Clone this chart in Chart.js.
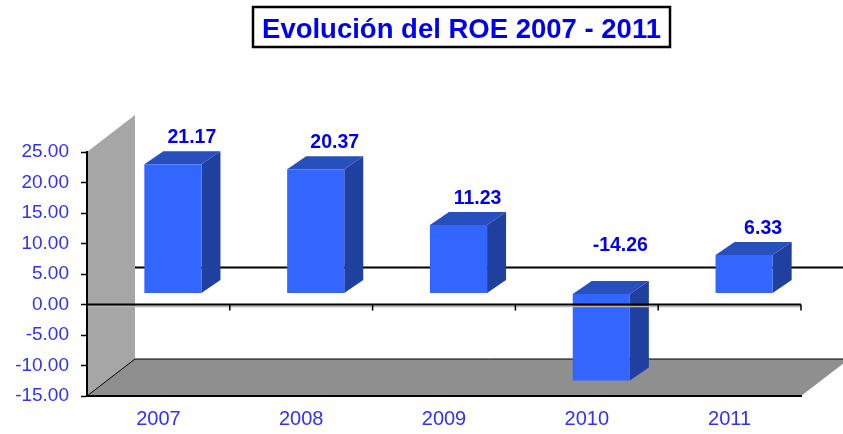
<!DOCTYPE html>
<html>
<head>
<meta charset="utf-8">
<title>Evolución del ROE</title>
<script src="https://cdn.jsdelivr.net/npm/chart.js@4"></script>
<style>
    html, body { margin: 0; background: #fff; }
    canvas { display: block; }
</style>
</head>
<body>
<canvas id="grafico" width="843" height="434"></canvas>
<script>
const titulo = 'Evolución del ROE 2007 - 2011'
const anos = ['2007', '2008', '2009', '2010', '2011']
const roe = [21.17, 20.37, 11.23, -14.26, 6.33]
const yTicks = [25, 20, 15, 10, 5, 0, -5, -10, -15]

// perspective of the fake 3D box
const fundo = { dx: 48, dy: -37 }
const barra = { dx: 14.5, dy: -11, fx: 19, fy: -13 }

function poly(ctx, pts, cor) {
    ctx.fillStyle = cor
    ctx.beginPath()
    pts.forEach((p, i) => i ? ctx.lineTo(p[0], p[1]) : ctx.moveTo(p[0], p[1]))
    ctx.closePath()
    ctx.fill()
}

function linha(ctx, x1, y1, x2, y2, w, cor = '#000') {
    ctx.strokeStyle = cor
    ctx.lineWidth = w
    ctx.beginPath()
    ctx.moveTo(x1, y1)
    ctx.lineTo(x2, y2)
    ctx.stroke()
}

const caixa3d = {
    id: 'caixa3d',
    afterLayout(chart) {
        // title box is not centred on the page in the original
        chart.titleBlock.left += 61
        chart.titleBlock.right += 61
    },
    beforeDraw(chart) {
        const ctx = chart.ctx
        const { left, right, top, bottom } = chart.chartArea
        ctx.save()
        poly(ctx, [[left, top], [left + fundo.dx, top + fundo.dy], [left + fundo.dx, bottom + fundo.dy], [left, bottom]], '#a6a6a6')
        poly(ctx, [[left, bottom], [left + fundo.dx, bottom + fundo.dy], [right + fundo.dx, bottom + fundo.dy], [right, bottom]], '#8f8f8f')
        linha(ctx, left, bottom, left + fundo.dx, bottom + fundo.dy, 1)
        linha(ctx, left + fundo.dx, bottom + fundo.dy, right + fundo.dx, bottom + fundo.dy, 1)
        ctx.restore()
    },
    beforeDatasetsDraw(chart) {
        const ctx = chart.ctx
        const { left, right } = chart.chartArea
        const y0 = chart.scales.y.getPixelForValue(0)
        linha(ctx, left + fundo.dx, y0 + fundo.dy, right + fundo.dx, y0 + fundo.dy, 2)

        ctx.save()
        ctx.translate(barra.dx, barra.dy)
        chart.getDatasetMeta(0).data.forEach(b => {
            const x1 = b.x - b.width / 2
            const x2 = b.x + b.width / 2
            const t = Math.min(b.y, b.base)
            const f = Math.max(b.y, b.base)
            poly(ctx, [[x1, t], [x1 + barra.fx, t + barra.fy], [x2 + barra.fx, t + barra.fy], [x2, t]], '#2850bd')
            poly(ctx, [[x2, t], [x2 + barra.fx, t + barra.fy], [x2 + barra.fx, f + barra.fy], [x2, f]], '#2040a0')
        })
    },
    afterDatasetsDraw(chart) {
        const ctx = chart.ctx
        ctx.restore()

        // zero axis lies over the bars
        const { left, right } = chart.chartArea
        const y0 = chart.scales.y.getPixelForValue(0)
        linha(ctx, left, y0 + 2, right, y0 + 2, 1.5, '#b5b5b5')
        linha(ctx, left, y0, right, y0, 2)
        const passo = (right - left) / anos.length
        for (let i = 0; i <= anos.length; i++) {
            linha(ctx, left + i * passo, y0, left + i * passo, y0 + 6, 1.5)
        }

        // value labels
        ctx.save()
        ctx.font = 'bold 19.5px "Liberation Sans"'
        ctx.fillStyle = '#0000f0'
        ctx.textAlign = 'center'
        ctx.textBaseline = 'middle'
        chart.getDatasetMeta(0).data.forEach((b, i) => {
            const extra = roe[i] < 0 ? 59 : 37.5
            ctx.fillText(roe[i].toFixed(2), b.x + barra.dx + barra.fx, Math.min(b.y, b.base) - extra)
        })
        ctx.restore()

        // title frame
        const tb = chart.titleBlock
        const cx = (tb.left + tb.right) / 2
        ctx.save()
        ctx.strokeStyle = '#000'
        ctx.lineWidth = 2.5
        ctx.strokeRect(cx - 208.5, 7, 417, 40)
        ctx.restore()
    }
}

new Chart(document.getElementById('grafico'), {
    type: 'bar',
    data: {
        labels: anos,
        datasets: [{
            data: roe,
            backgroundColor: '#3366ff',
            borderWidth: 0,
            barPercentage: 0.4,
            categoryPercentage: 1,
            clip: false
        }]
    },
    options: {
        responsive: false,
        animation: false,
        layout: { padding: { right: 42 } },
        plugins: {
            legend: { display: false },
            tooltip: { enabled: false },
            title: {
                display: true,
                text: titulo,
                color: '#0000f0',
                font: { family: '"Liberation Sans"', size: 27.5, weight: 'bold', lineHeight: 1 },
                padding: { top: 16.5, bottom: 108 }
            }
        },
        scales: {
            x: {
                grid: { display: false },
                border: { color: '#000', width: 2 },
                afterFit(s) { s.height = 38 },
                ticks: {
                    color: '#3030ff',
                    padding: 3,
                    font: { family: '"Liberation Sans"', size: 20 }
                }
            },
            y: {
                min: -15,
                max: 25,
                afterBuildTicks(s) { s.ticks = yTicks.map(v => ({ value: v })) },
                afterFit(s) { s.width = 87 },
                grid: { drawOnChartArea: false, tickLength: 6, tickColor: '#000', tickWidth: 1.5 },
                border: { color: '#000', width: 2 },
                ticks: {
                    color: '#3030ff',
                    padding: 12,
                    font: { family: '"Liberation Sans"', size: 19 },
                    callback: v => v.toFixed(2)
                }
            }
        }
    },
    plugins: [caixa3d]
})
</script>
</body>
</html>
